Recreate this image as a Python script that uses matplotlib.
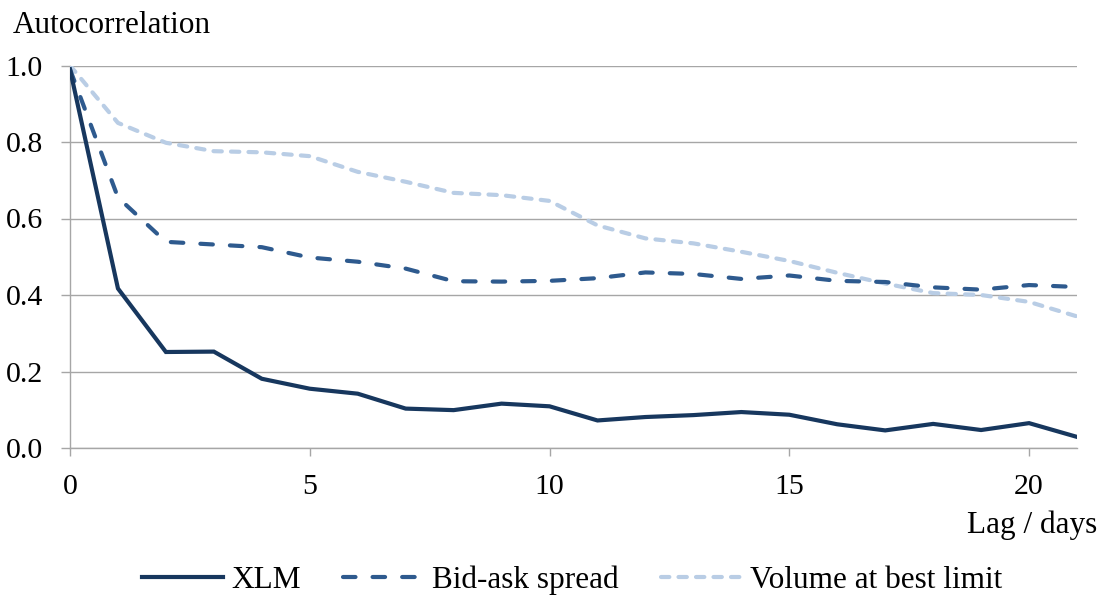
import matplotlib
matplotlib.use("Agg")
import matplotlib.pyplot as plt
import numpy as np

lags = list(range(22))
xlm = [0.99, 0.417, 0.251, 0.252, 0.181, 0.155, 0.142, 0.103, 0.099, 0.116, 0.109,
       0.072, 0.081, 0.086, 0.094, 0.087, 0.062, 0.046, 0.063, 0.047, 0.065, 0.029]
bidask = [0.99, 0.655, 0.539, 0.532, 0.525, 0.498, 0.487, 0.469, 0.436, 0.435, 0.437,
          0.444, 0.459, 0.455, 0.442, 0.451, 0.437, 0.434, 0.420, 0.414, 0.426, 0.421]
volume = [1.0, 0.850, 0.798, 0.776, 0.773, 0.763, 0.722, 0.696, 0.667, 0.661, 0.646,
          0.582, 0.548, 0.535, 0.513, 0.489, 0.458, 0.430, 0.405, 0.400, 0.382, 0.344]
series_names = ["XLM", "Bid-ask spread", "Volume at best limit"]
xticks = [0, 5, 10, 15, 20]
yticks = [0.0, 0.2, 0.4, 0.6, 0.8, 1.0]

plt.rcParams['font.family'] = ['Liberation Serif', 'DejaVu Serif']

W, H = 1100, 602
fig = plt.figure(figsize=(W / 100, H / 100), dpi=100)
ax = fig.add_axes([70 / W, 1 - 448 / H, (1077 - 70) / W, (448 - 65.5) / H])

c_xlm = '#17375E'
c_bid = '#2E5A8E'
c_vol = '#B9CDE5'
grid_c = '#A6A6A6'

ax.plot(lags, volume, color=c_vol, lw=3.0, linestyle=(0, (2.0, 2.2)),
        dash_capstyle='round', solid_joinstyle='round', label=series_names[2], zorder=3)
ax.plot(lags, bidask, color=c_bid, lw=3.0, linestyle=(0, (3.0, 4.1)),
        dash_capstyle='round', label=series_names[1], zorder=4)
ax.plot(lags, xlm, color=c_xlm, lw=3.0, solid_joinstyle='miter',
        label=series_names[0], zorder=5)

ax.set_xlim(0, 21)
ax.set_ylim(0, 1.0)
ax.set_xticks(xticks)
ax.set_yticks(yticks)
ax.set_yticklabels([f"{v:.1f}" for v in yticks])
ax.yaxis.grid(True, color=grid_c, lw=1.0)
ax.set_axisbelow(True)
for s in ['top', 'right']:
    ax.spines[s].set_visible(False)
for s in ['left', 'bottom']:
    ax.spines[s].set_color(grid_c)
    ax.spines[s].set_linewidth(1.0)
ax.tick_params(axis='x', direction='out', length=6, width=1, color=grid_c,
               labelsize=21.5, pad=13)
ax.tick_params(axis='y', direction='out', length=6.5, width=1, color=grid_c,
               labelsize=21.5, pad=13)

fig.text(13 / W, 1 - 33 / H, "Autocorrelation", fontsize=22.5, ha='left', va='baseline')
fig.text(1097 / W, 1 - 533 / H, "Lag / days", fontsize=22.5, ha='right', va='baseline')

handles, labels = ax.get_legend_handles_labels()
order = [2, 1, 0]
fig.legend([handles[i] for i in order], [labels[i] for i in order],
           loc='center', bbox_to_anchor=(572 / W, 1 - 580 / H), ncol=3,
           frameon=False, fontsize=22.5, handlelength=2.6, handletextpad=0.25,
           columnspacing=1.35, borderpad=0)

fig.savefig("out.png", dpi=100)
